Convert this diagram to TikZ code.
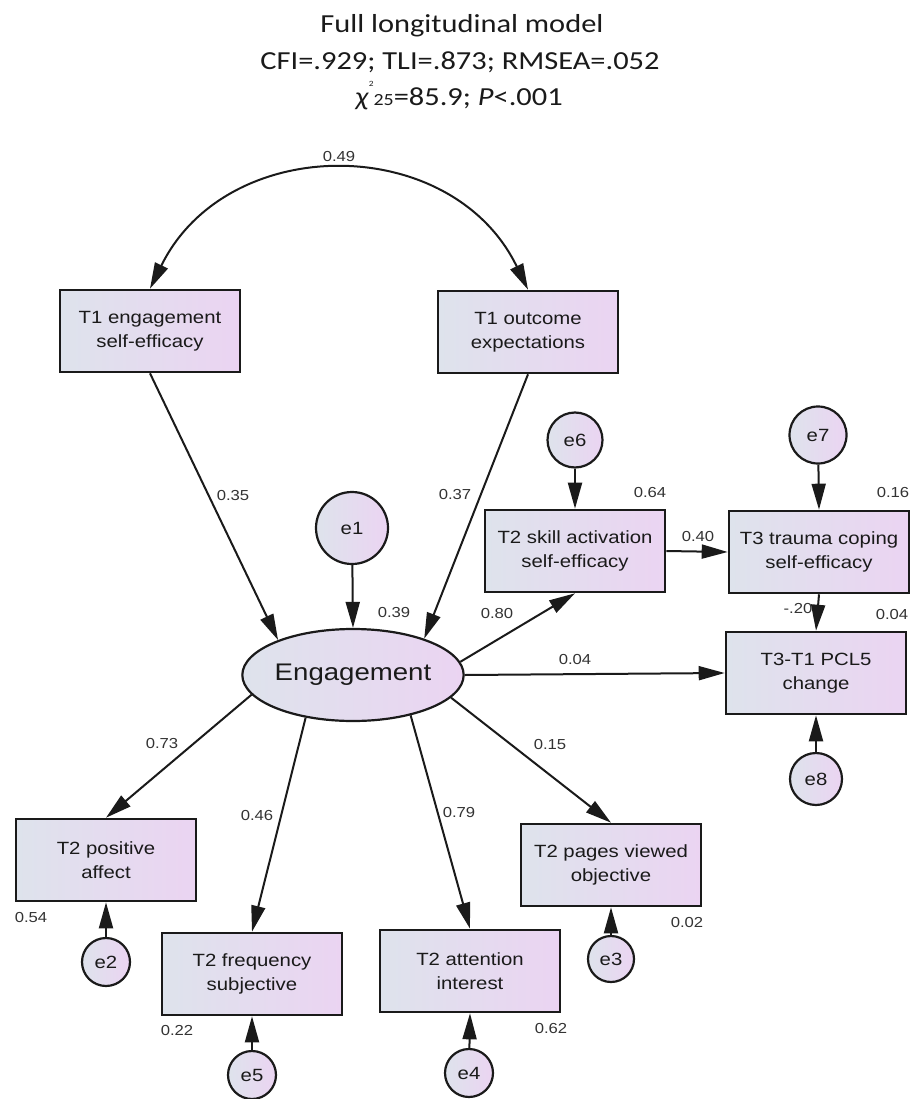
\documentclass[tikz,border=0pt]{standalone}
\usepackage{fontspec}
\setmainfont{Liberation Sans}[FakeStretch=1.15]
\newfontfamily\titlefont{Carlito}[FakeStretch=1.17]
\usetikzlibrary{arrows.meta,shapes.geometric}
\definecolor{boxl}{HTML}{DEE3EC}
\definecolor{boxr}{HTML}{EBD4F2}
\definecolor{ink}{HTML}{1A1A1A}
\definecolor{numcol}{HTML}{333333}
\begin{document}
\begin{tikzpicture}[x=1pt,y=-1pt,
  obs/.style={draw=ink,line width=2.6pt,left color=boxl,right color=boxr,minimum width=180pt,minimum height=82pt,inner sep=0pt,align=center,text=ink,font=\fontsize{17.7}{24}\selectfont},
  err/.style={circle,draw=ink,line width=2.2pt,left color=boxl,right color=boxr,inner sep=0pt,text=ink,font=\fontsize{17.7}{20}\selectfont},
  latent/.style={ellipse,draw=ink,line width=2.2pt,left color=boxl,right color=boxr,minimum width=206pt,minimum height=92pt,inner sep=0pt,text=ink,font=\fontsize{24}{26}\selectfont},
  coef/.style={text=numcol,font=\fontsize{14.5}{16}\selectfont,inner sep=0pt},
  regr/.style={-{Triangle[length=26pt,width=14pt]},line width=2pt,draw=ink},
  cov/.style={{Triangle[length=26pt,width=14pt]}-{Triangle[length=26pt,width=14pt]},line width=2pt,draw=ink},
  title/.style={anchor=base,text=ink,inner sep=0pt,font=\titlefont\fontsize{26}{30}\selectfont}]
  \useasboundingbox (0,0) rectangle (911,1099);

  \node[title] (head1) at (462,33) {Full longitudinal model};
  \node[title] (head2) at (460,70) {CFI=.929; TLI=.873; RMSEA=.052};
  \node[title] (head3) at (459,106) {\textit{χ}\raisebox{0.75em}{\fontsize{8}{8}\selectfont 2}{\fontsize{17}{17}\selectfont 25}=85.9; \textit{P}<.001};

  \node[obs] (t1eng) at (150,331) {T1 engagement\\self-efficacy};
  \node[obs] (t1out) at (528,332) {T1 outcome\\expectations};
  \node[obs] (t2skill) at (575,551) {T2 skill activation\\self-efficacy};
  \node[obs] (t3cope) at (819,552) {T3 trauma coping\\self-efficacy};
  \node[obs] (pcl) at (816,673) {T3-T1 PCL5\\change};
  \node[obs] (t2pos) at (106,860) {T2 positive\\affect};
  \node[obs] (t2freq) at (252,974) {T2 frequency\\subjective};
  \node[obs] (t2att) at (470,971) {T2 attention\\interest};
  \node[obs] (t2pages) at (611,865) {T2 pages viewed\\objective};

  \node[latent] (eng) at (353,675) {Engagement};

  \node[err,minimum size=72pt] (e1) at (352,528) {e1};
  \node[err,minimum size=55pt] (e6) at (575,440) {e6};
  \node[err,minimum size=57pt] (e7) at (818,435) {e7};
  \node[err,minimum size=52pt] (e8) at (816,779) {e8};
  \node[err,minimum size=48pt] (e2) at (106,962) {e2};
  \node[err,minimum size=48pt] (e5) at (252,1075) {e5};
  \node[err,minimum size=48pt] (e4) at (469,1073) {e4};
  \node[err,minimum size=46pt] (e3) at (611,959) {e3};

  \draw[cov] (t1eng.north) to[bend left=64,looseness=1.18] (t1out.north);
  \draw[regr] (t1eng.south) -- (eng.155);
  \draw[regr] (t1out.south) -- (eng.27);
  \draw[regr] (e1) -- (eng.north);
  \draw[regr] (eng.7) -- (t2skill.south);
  \draw[regr] (eng.east) -- (pcl.west);
  \draw[regr] (e6) -- (t2skill.north);
  \draw[regr] (e7) -- (t3cope.north);
  \draw[regr] (t2skill.east) -- (t3cope.west);
  \draw[regr] (t3cope.south) -- (pcl.north);
  \draw[regr] (e8) -- (pcl.south);
  \draw[regr] (eng.191) -- (t2pos.north);
  \draw[regr] (eng.222) -- (t2freq.north);
  \draw[regr] (eng.325) -- (t2att.north);
  \draw[regr] (eng.347) -- (t2pages.north);
  \draw[regr] (e2) -- (t2pos.south);
  \draw[regr] (e5) -- (t2freq.south);
  \draw[regr] (e4) -- (t2att.south);
  \draw[regr] (e3) -- (t2pages.south);

  \node[coef] (c49) at (339,157) {0.49};
  \node[coef] (c35) at (233,496) {0.35};
  \node[coef] (c37) at (455,495) {0.37};
  \node[coef] (c39) at (394,613) {0.39};
  \node[coef] (c80) at (497,614) {0.80};
  \node[coef] (c64) at (650,493) {0.64};
  \node[coef] (c40) at (698,537) {0.40};
  \node[coef] (c16) at (893,493) {0.16};
  \node[coef] (c20) at (798,609) {-.20};
  \node[coef] (c04r) at (892,615) {0.04};
  \node[coef] (c04) at (575,660) {0.04};
  \node[coef] (c73) at (162,743) {0.73};
  \node[coef] (c46) at (257,815) {0.46};
  \node[coef] (c79) at (459,812) {0.79};
  \node[coef] (c15) at (550,744) {0.15};
  \node[coef] (c54) at (31,917) {0.54};
  \node[coef] (c22) at (177,1030) {0.22};
  \node[coef] (c62) at (551,1028) {0.62};
  \node[coef] (c02) at (687,922) {0.02};
\end{tikzpicture}
\end{document}
